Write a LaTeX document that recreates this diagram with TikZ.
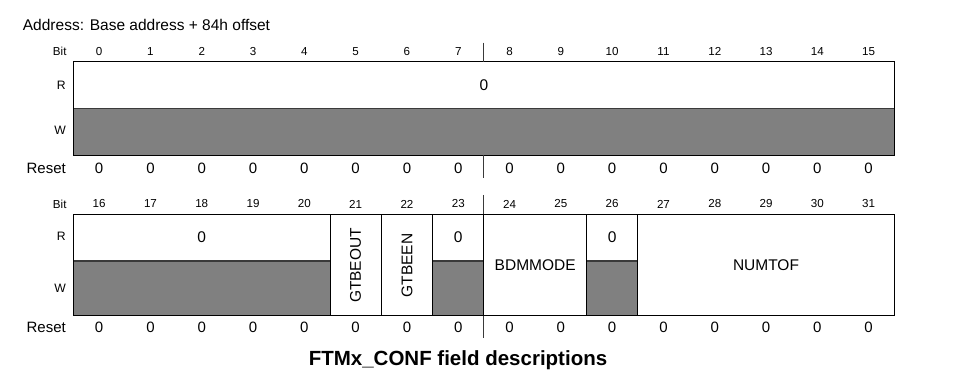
\documentclass[tikz,border=0pt]{standalone}
\usepackage{fontspec}
\setmainfont{Liberation Sans}
\definecolor{regGray}{HTML}{808080}
\definecolor{lineGray}{HTML}{3A3A3A}
\begin{document}
\begin{tikzpicture}[x=1pt,y=-1pt,
  frame/.style={draw=black,line width=0.9pt},
  midline/.style={draw=lineGray,line width=1.1pt},
  divider/.style={draw=lineGray,line width=0.9pt},
  bitnum/.style={inner sep=0pt,font=\fontsize{11.6}{13}\selectfont},
  rowlbl/.style={inner sep=0pt,anchor=east,font=\fontsize{12.2}{14}\selectfont},
  resetval/.style={inner sep=0pt,font=\fontsize{15}{17}\selectfont},
  fieldtxt/.style={inner sep=0pt,font=\fontsize{15.5}{18}\selectfont},
  rotfield/.style={fieldtxt,rotate=90}]
\useasboundingbox (0,0) rectangle (954,385);

% title
\node[inner sep=0pt,anchor=base west,font=\fontsize{15.5}{18}\selectfont] (addr) at (22.7,30.7) {Address: Base address + 84h offset};

% ---------- top register (bits 0-15) ----------
\coordinate (tTL) at (73.5,61.7);
\coordinate (tMR) at (894.3,108.3);
\coordinate (tML) at (73.5,108.3);
\coordinate (tBR) at (894.3,155);
\fill[white] (tTL) rectangle (tMR);
\fill[regGray] (tML) rectangle (tBR);
\draw[midline] (tML) -- (tMR);
\draw[frame] (tTL) rectangle (tBR);

\node[rowlbl,font=\fontsize{11.6}{13}\selectfont] (tbit) at (66.7,51.7) {Bit};
\node[rowlbl] (tR) at (66,85) {R};
\node[rowlbl] (tW) at (66,130.7) {W};
\node[rowlbl,font=\fontsize{15}{17}\selectfont] (treset) at (66,168.3) {Reset};
\foreach \i in {0,...,15}{
  \node[bitnum] (tb\i) at ({73.5+(\i+0.5)*51.3},51.7) {\i};
  \node[resetval] (tr\i) at ({73.5+(\i+0.5)*51.3},168.3) {0};
}
\node[fieldtxt] (tzero) at (483.9,85) {0};

\coordinate (tdA) at (483.9,42.7);
\coordinate (tdB) at (483.9,61.7);
\coordinate (tdC) at (483.9,155);
\coordinate (tdD) at (483.9,177.7);
\draw[divider] (tdA) -- (tdB);
\draw[divider] (tdC) -- (tdD);

% ---------- bottom register (bits 16-31) ----------
\coordinate (bTL) at (73.5,214.3);
\coordinate (bBR) at (894.3,315.7);
\fill[white] (bTL) rectangle (bBR);
\fill[regGray] (73.5,261) rectangle (330,315.7);
\fill[regGray] (432.6,261) rectangle (483.9,315.7);
\fill[regGray] (586.5,261) rectangle (637.8,315.7);
\draw[midline] (73.5,261) -- (330,261);
\draw[midline] (432.6,261) -- (483.9,261);
\draw[midline] (586.5,261) -- (637.8,261);
\foreach \xx in {330,381.3,432.6,483.9,586.5,637.8}{
  \draw[frame] (\xx,214.3) -- (\xx,315.7);
}
\draw[frame] (bTL) rectangle (bBR);

\node[rowlbl,font=\fontsize{11.6}{13}\selectfont] (bbit) at (66.7,204) {Bit};
\node[rowlbl] (bR) at (66,236.7) {R};
\node[rowlbl] (bW) at (66,288) {W};
\node[rowlbl,font=\fontsize{15}{17}\selectfont] (breset) at (66,327.3) {Reset};
\foreach \i in {16,...,31}{
  \node[bitnum] (bb\i) at ({73.5+(\i-15.5)*51.3},204) {\i};
  \node[resetval] (br\i) at ({73.5+(\i-15.5)*51.3},327.3) {0};
}
\node[fieldtxt] (bz18) at (201.75,236.7) {0};
\node[rotfield] (gtbeout) at (355.65,265.5) {GTBEOUT};
\node[rotfield] (gtbeen) at (406.95,265.5) {GTBEEN};
\node[fieldtxt] (bz23) at (458.25,236.7) {0};
\node[fieldtxt] (bdm) at (535.2,265) {BDMMODE};
\node[fieldtxt] (bz26) at (612.15,236.7) {0};
\node[fieldtxt] (numtof) at (766,265) {NUMTOF};

\coordinate (bdA) at (483.9,195);
\coordinate (bdB) at (483.9,214.3);
\coordinate (bdC) at (483.9,315.7);
\coordinate (bdD) at (483.9,338);
\draw[divider] (bdA) -- (bdB);
\draw[divider] (bdC) -- (bdD);

% caption
\node[inner sep=0pt,anchor=base,font=\fontsize{20.5}{24}\selectfont\bfseries] (caption) at (458,365) {FTMx\_CONF field descriptions};
\end{tikzpicture}
\end{document}
